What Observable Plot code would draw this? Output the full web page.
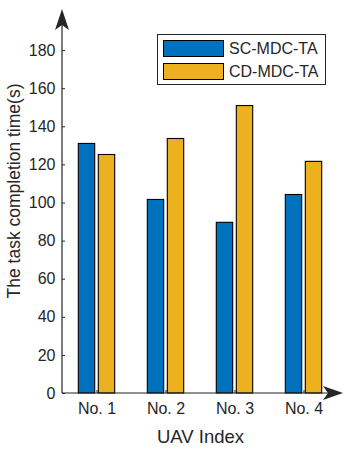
<!DOCTYPE html>
<html><head><meta charset="utf-8">
<script src="https://cdn.jsdelivr.net/npm/d3@7"></script>
<script src="https://cdn.jsdelivr.net/npm/@observablehq/plot@0.6"></script>
<style>
body{margin:0;background:#fff;font-family:"Liberation Sans",Arial,sans-serif;}
#wrap{position:relative;width:344px;height:469px;}
#legend{position:absolute;left:157px;top:34px;width:169px;height:51px;border:1px solid #262626;background:#fff;box-sizing:border-box;}
.item{position:absolute;left:5px;height:17px;display:flex;align-items:center;}
.sw{width:61px;height:17px;box-sizing:border-box;border:1px solid #000;}
.lab{margin-left:5px;font-size:16px;color:#262626;white-space:nowrap;}
</style></head>
<body><div id="wrap"></div>
<script>
const uavs = ["No. 1", "No. 2", "No. 3", "No. 4"];
const seriesNames = ["SC-MDC-TA", "CD-MDC-TA"];
const scValues = [131.0, 101.6, 89.6, 104.2];
const cdValues = [125.2, 133.6, 150.9, 121.6];
const yTicks = [0, 20, 40, 60, 80, 100, 120, 140, 160, 180];
const colors = ["#0072BD", "#EDB120"];
const yLabel = "The task completion time(s)";
const xLabel = "UAV Index";

const sc = uavs.map((u, i) => ({uav: u, value: scValues[i]}));
const cd = uavs.map((u, i) => ({uav: u, value: cdValues[i]}));
const ink = "#262626";

function axesArrows(index, scales, values, dims) {
  const x0 = dims.marginLeft, y0 = dims.height - dims.marginBottom;
  const yT = dims.marginTop - 3, xR = dims.width - dims.marginRight + 5;
  const g = d3.create("svg:g");
  g.append("line").attr("x1", x0).attr("y1", y0).attr("x2", x0).attr("y2", yT + 10).attr("stroke", ink).attr("stroke-width", 1.2);
  g.append("line").attr("x1", x0).attr("y1", y0).attr("x2", xR - 10).attr("y2", y0).attr("stroke", ink).attr("stroke-width", 1.2);
  g.append("path").attr("fill", ink)
    .attr("d", `M${x0},${yT}L${x0 - 7},${yT + 21}L${x0},${yT + 16}L${x0 + 7},${yT + 21}Z`);
  g.append("path").attr("fill", ink)
    .attr("d", `M${xR},${y0}L${xR - 20},${y0 - 7}L${xR - 15},${y0}L${xR - 20},${y0 + 7}Z`);
  return g.node();
}

const plot = Plot.plot({
  width: 344, height: 469,
  marginLeft: 62, marginRight: 6, marginTop: 12, marginBottom: 76,
  style: {fontFamily: '"Liberation Sans", Arial, sans-serif', fontSize: "16px", color: ink, background: "#fff"},
  x: {type: "band", domain: uavs, padding: 0, axis: null},
  y: {domain: [0, 200], axis: null},
  marks: [
    Plot.barY(sc, {x: "uav", y: "value", fill: colors[0], stroke: "#000", strokeWidth: 1.1, insetLeft: 26.3, insetRight: 26.3, dx: -10}),
    Plot.barY(cd, {x: "uav", y: "value", fill: colors[1], stroke: "#000", strokeWidth: 1.1, insetLeft: 26.3, insetRight: 26.3, dx: 10}),
    Plot.axisY(yTicks, {tickSize: -3, fill: "none", stroke: ink, label: null}),
    Plot.axisY(yTicks, {tickSize: 0, tickPadding: 7, fill: ink, fontSize: 16, label: null}),
    Plot.axisX(uavs, {tickSize: -3, fill: "none", stroke: ink, label: null}),
    Plot.axisX(uavs, {tickSize: 0, tickPadding: 9, fill: ink, fontSize: 16, label: null}),
    Plot.text([xLabel], {frameAnchor: "bottom", textAnchor: "middle", dy: 49, fill: ink, fontSize: 18.5}),
    Plot.text([yLabel], {frameAnchor: "left", textAnchor: "middle", lineAnchor: "middle", rotate: -90, dx: -48, dy: -12, fill: ink, fontSize: 17.5}),
    axesArrows
  ]
});
const wrap = document.getElementById("wrap");
wrap.appendChild(plot);
const leg = document.createElement("div");
leg.id = "legend";
seriesNames.forEach((s, i) => {
  const it = document.createElement("div");
  it.className = "item";
  it.style.top = (5 + i * 23) + "px";
  const sw = document.createElement("div");
  sw.className = "sw"; sw.style.background = colors[i];
  const lb = document.createElement("span");
  lb.className = "lab"; lb.textContent = s;
  it.appendChild(sw); it.appendChild(lb);
  leg.appendChild(it);
});
wrap.appendChild(leg);
</script></body></html>
